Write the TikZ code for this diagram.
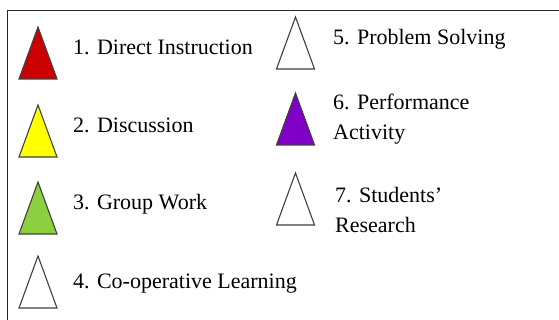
\documentclass[tikz,border=0pt]{standalone}
\usepackage{fontspec}
\setmainfont{LiberationSerif-Regular.ttf}
\definecolor{redtri}{HTML}{CC0000}
\definecolor{yellowtri}{HTML}{FFFF00}
\definecolor{greentri}{HTML}{8CD040}
\definecolor{purpletri}{HTML}{8000C8}
\definecolor{edge}{HTML}{404040}

\tikzset{
  tri/.style={draw=edge,line width=1.1pt,line join=miter},
  lbl/.style={anchor=base west,inner sep=0pt,align=left,
    font=\fontsize{22}{30}\selectfont}
}

\begin{document}
\begin{tikzpicture}[x=1pt,y=-1pt]
    \useasboundingbox (0,0) rectangle (559,320);
    % frame (only top and left edges are visible)
    \draw[line width=1.4pt,black!85] (7.5,320) -- (7.5,10.5) -- (559,10.5);
    % triangles: apex x / apex y / colour
    \foreach \x/\y/\c in {38/27/redtri,38/105/yellowtri,38/182/greentri,38/256/white,
                          295.5/17/white,295.5/93/purpletri,295.5/173/white}
      \draw[tri,fill=\c] (\x-19,\y+52) -- (\x,\y) -- (\x+19,\y+52) -- cycle;
    % labels
    \node[lbl] (l1) at (73,55)  {1. Direct Instruction};
    \node[lbl] (l2) at (73,133) {2. Discussion};
    \node[lbl] (l3) at (73,210) {3. Group Work};
    \node[lbl] (l4) at (73,288) {4. Co-operative Learning};
    \node[lbl] (l5) at (333,45) {5. Problem Solving};
    \node[lbl] (l6) at (333,140) {6. Performance\\Activity};
    \node[lbl] (l7) at (335,233) {7. Students’\\Research};
\end{tikzpicture}
\end{document}
